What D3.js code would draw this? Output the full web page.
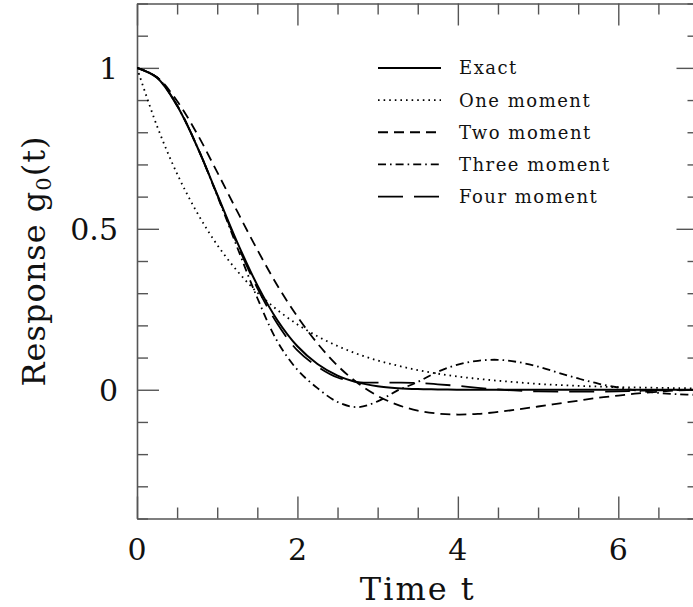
<!DOCTYPE html>
<html><head><meta charset="utf-8">
<script src="https://cdn.jsdelivr.net/npm/d3@7"></script>
<style>body{margin:0;background:#fff}svg{display:block}</style>
</head><body>
<svg id="chart" width="693" height="607"></svg>
<script>
const times = [0,0.25,0.5,0.75,1,1.25,1.5,1.75,2,2.25,2.5,2.75,3,3.25,3.5,3.75,4,4.25,4.5,4.75,5,5.25,5.5,5.75,6,6.25,6.5,6.75,7];
const exact = [1,0.969,0.882,0.755,0.607,0.458,0.325,0.216,0.135,0.080,0.044,0.023,0.011,0.005,0.002,0.001,0,0,0,0,0,0,0,0,0,0,0,0,0];
const oneMoment = [1,0.819,0.671,0.550,0.450,0.369,0.302,0.248,0.203,0.166,0.136,0.111,0.091,0.075,0.061,0.050,0.041,0.034,0.028,0.023,0.018,0.015,0.012,0.010,0.008,0.007,0.006,0.005,0.004];
const twoMoment = [1,0.971,0.897,0.795,0.676,0.554,0.435,0.324,0.227,0.144,0.075,0.021,-0.019,-0.047,-0.065,-0.074,-0.077,-0.075,-0.069,-0.061,-0.052,-0.043,-0.034,-0.025,-0.018,-0.011,-0.006,-0.002,0.001];
const threeMoment = [1,0.970,0.883,0.755,0.603,0.442,0.285,0.150,0.062,0.005,-0.038,-0.054,-0.036,-0.002,0.024,0.056,0.078,0.090,0.093,0.086,0.072,0.053,0.035,0.019,0.007,-0.003,-0.010,-0.014,-0.016];
const fourMoment = [1,0.970,0.884,0.756,0.605,0.452,0.316,0.205,0.122,0.072,0.038,0.024,0.022,0.022,0.021,0.017,0.012,0.006,0.001,-0.003,-0.005,-0.006,-0.006,-0.006,-0.005,-0.003,-0.002,-0.001,0];
const seriesNames = ["Exact","One moment","Two moment","Three moment","Four moment"];
const xMajorTicks = [0,2,4,6];
const yMajorTicks = [0,0.5,1];
const yTickLabels = ["0","0.5","1"];

const seriesValues = [exact, oneMoment, twoMoment, threeMoment, fourMoment];
const dashes = [null, "1.6,4", "10,6", "8,4,1.6,4", "25,11"];

const svg = d3.select("#chart");
const L = 137, R = 698.5, T = 3.5, B = 518.5;
const x = d3.scaleLinear().domain([0,7]).range([L,R]);
const y = d3.scaleLinear().domain([-0.4,1.2]).range([B,T]);
const axisColor = "#555";

// ticks
const xMinor = d3.range(0, 7.001, 0.5);
const yMinor = d3.range(-0.4, 1.2001, 0.1).map(v => Math.round(v*10)/10);
const isMajorX = v => Math.abs(v/2 - Math.round(v/2)) < 1e-6;
const isMajorY = v => Math.abs(v/0.5 - Math.round(v/0.5)) < 1e-6;

const axB = svg.append("g").attr("transform",`translate(0,${B})`)
  .call(d3.axisBottom(x).tickValues(xMinor).tickSize(0).tickFormat(""));
const axT = svg.append("g").attr("transform",`translate(0,${T})`)
  .call(d3.axisTop(x).tickValues(xMinor).tickSize(0).tickFormat(""));
const axL = svg.append("g").attr("transform",`translate(${L},0)`)
  .call(d3.axisLeft(y).tickValues(yMinor).tickSize(0).tickFormat(""));
const axR = svg.append("g").attr("transform",`translate(${R},0)`)
  .call(d3.axisRight(y).tickValues(yMinor).tickSize(0).tickFormat(""));
[axB,axT,axL,axR].forEach(a => a.selectAll(".domain").attr("stroke",axisColor).attr("stroke-width",1.6));
axB.selectAll(".tick line").attr("y2", d => -(isMajorX(d)?22:11)).attr("stroke",axisColor).attr("stroke-width",1.4);
axT.selectAll(".tick line").attr("y2", d => (isMajorX(d)?22:11)).attr("stroke",axisColor).attr("stroke-width",1.4);
axL.selectAll(".tick line").attr("x2", d => (isMajorY(d)?22:11)).attr("stroke",axisColor).attr("stroke-width",1.4);
axR.selectAll(".tick line").attr("x2", d => -(isMajorY(d)?22:11)).attr("stroke",axisColor).attr("stroke-width",1.4);

// tick labels
const fontSerif = "'DejaVu Serif', serif";
svg.append("g").selectAll("text").data(xMajorTicks).join("text")
  .attr("x", d => x(d)).attr("y", 560).attr("text-anchor","middle")
  .attr("font-family",fontSerif).attr("font-size",30).attr("fill","#111")
  .text(d => d);
svg.append("g").selectAll("text").data(yMajorTicks).join("text")
  .attr("x", 118).attr("y", d => y(d) + 11).attr("text-anchor","end")
  .attr("font-family",fontSerif).attr("font-size",30).attr("fill","#111")
  .text((d,i) => yTickLabels[i]);

// axis titles
svg.append("text").attr("x",(L+R)/2).attr("y",600).attr("text-anchor","middle")
  .attr("font-family",fontSerif).attr("font-size",32).attr("letter-spacing",2).attr("fill","#111")
  .text("Time t");
const yt = svg.append("text").attr("transform",`translate(45,${(T+B)/2}) rotate(-90)`)
  .attr("text-anchor","middle").attr("font-family",fontSerif).attr("font-size",32)
  .attr("letter-spacing",1).attr("fill","#111");
yt.append("tspan").text("Response g");
yt.append("tspan").attr("font-size",21).attr("dy",6).text("0");
yt.append("tspan").attr("dy",-6).text("(t)");

// curves
svg.append("clipPath").attr("id","clip").append("rect")
  .attr("x",L).attr("y",T).attr("width",R-L).attr("height",B-T);
const line = d3.line().x(d => x(d[0])).y(d => y(d[1])).curve(d3.curveCatmullRom.alpha(0.5));
const g = svg.append("g").attr("clip-path","url(#clip)");
seriesValues.forEach((vals,i) => {
  g.append("path").datum(times.map((t,j) => [t, vals[j]]))
    .attr("d", line).attr("fill","none").attr("stroke","#000")
    .attr("stroke-width", i===0 ? 2 : 1.8)
    .attr("stroke-dasharray", dashes[i]);
});

// legend
const legendY = [1, 0.9, 0.8, 0.7, 0.6];
const lg = svg.append("g");
seriesNames.forEach((name,i) => {
  const yy = y(legendY[i]);
  lg.append("line").attr("x1",378).attr("x2",441).attr("y1",yy).attr("y2",yy)
    .attr("stroke","#000").attr("stroke-width", i===0?2:1.8).attr("stroke-dasharray", dashes[i]);
  lg.append("text").attr("x",459).attr("y",yy+6.5).attr("font-family",fontSerif)
    .attr("font-size",18).attr("letter-spacing",1.5).attr("fill","#111").text(name);
});
</script>
</body></html>
